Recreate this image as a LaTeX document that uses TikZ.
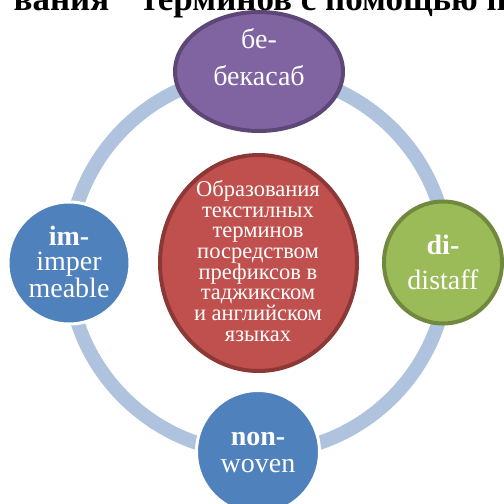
\documentclass[tikz,border=0pt]{standalone}
\usepackage{fontspec}
\setmainfont{Liberation Serif}
\usetikzlibrary{shapes.geometric}
\definecolor{ringc}{RGB}{176,195,222}
\definecolor{purf}{RGB}{128,100,162}
\definecolor{purd}{RGB}{92,71,118}
\definecolor{redf}{RGB}{192,80,77}
\definecolor{redd}{RGB}{140,56,54}
\definecolor{grnf}{RGB}{155,187,89}
\definecolor{grnd}{RGB}{113,137,63}
\definecolor{bluf}{RGB}{79,129,189}
\begin{document}
\begin{tikzpicture}[x=1pt,y=-1pt,
 ring/.style={draw=ringc,line width=14pt},
 blob/.style={ellipse,inner sep=0pt,outer sep=0pt},
 txt/.style={text=white,align=center,inner sep=0pt,font=\fontsize{28}{25}\selectfont},
 ctxt/.style={text=white,align=center,inner sep=0pt,font=\fontsize{22.5}{20.7}\selectfont}]
\useasboundingbox (0,0) rectangle (504,504);
\clip (0,0) rectangle (504,504);
\node[anchor=base east,inner sep=0pt,font=\fontsize{35}{35}\selectfont\bfseries] (title) at (507,10.5) {вания\hspace{0.9em}терминов с помощью п};
\coordinate (c) at (258,263);
\draw[ring] (c) circle (190);
% center
\node[blob,fill=redf,draw=redd,line width=4pt,minimum width=197,minimum height=216] (center) at (258.5,263) {};
\node[ctxt] (ctext) at (258,261) {Образования\\текстилных\\терминов\\посредством\\префиксов в\\таджикском\\и английском\\языках};
% top
\node[blob,fill=purf,draw=purd,line width=4pt,minimum width=168,minimum height=119] (top) at (259,71.5) {};
\node[txt] (ttext) at (259,57) {бе-\\[12pt]бекасаб};
% right
\node[blob,fill=grnf,draw=grnd,line width=4pt,minimum width=118,minimum height=122] (right) at (443,262.5) {};
\node[txt] (rtext) at (443,262) {\textbf{di-}\\[10pt]distaff};
% left
\node[blob,fill=bluf,draw=white,line width=3pt,minimum size=122] (left) at (69,263) {};
\node[txt] (ltext) at (69,262) {\textbf{im-}\\imper\\meable};
% bottom
\node[blob,fill=bluf,draw=white,line width=3pt,minimum size=123] (bottom) at (258,452) {};
\node[txt] (btext) at (258,452.5) {\textbf{non-}\\[2pt]woven};
\end{tikzpicture}
\end{document}
